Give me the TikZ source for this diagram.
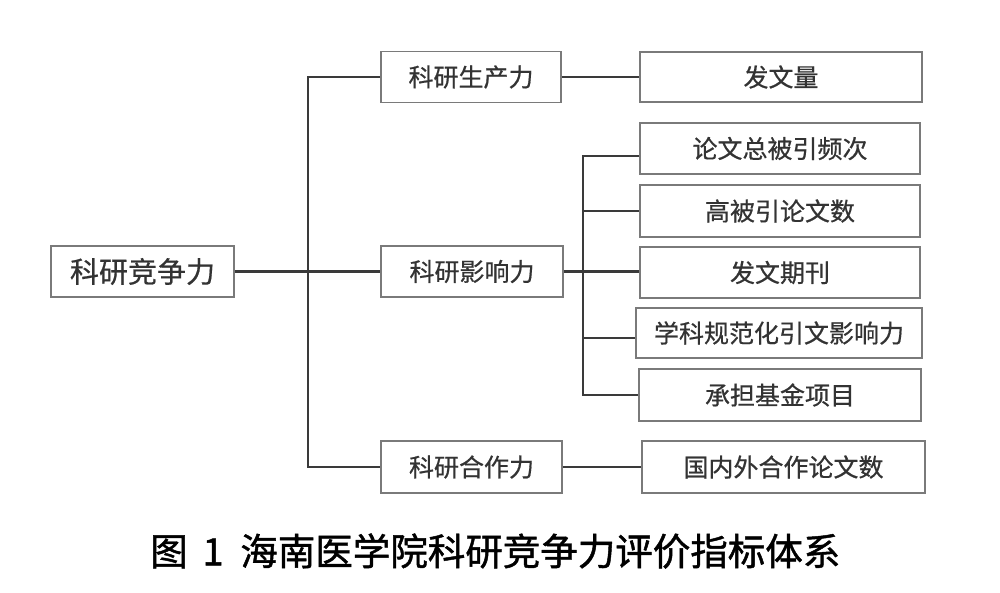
\documentclass[tikz,border=0pt]{standalone}
\usepackage{fontspec}
\newfontfamily\cjk[FakeBold=0.6]{Noto Sans CJK SC}
\newfontfamily\cjkcap[FakeBold=1.2]{Noto Sans CJK SC}
\begin{document}
\begin{tikzpicture}[x=1pt,y=-1pt,
  box/.style={draw=boxgray,line width=1.6pt,fill=white,inner sep=0pt,
    font=\cjk\fontsize{25}{29}\selectfont,text=txtgray,minimum height=51pt},
  link/.style={draw=linegray,line width=2.2pt}]
\definecolor{boxgray}{HTML}{7A7A7A}
\definecolor{txtgray}{HTML}{333333}
\definecolor{linegray}{HTML}{3A3A3A}
\useasboundingbox (0,0) rectangle (1000,592);
\fill[white] (0,0) rectangle (1000,592);
% nodes
\node[box,minimum width=183pt,font=\cjk\fontsize{29}{33}\selectfont] (root) at (142.5,271.5) {科研竞争力};
\node[box,minimum width=180pt] (p1) at (471,77) {科研生产力};
\node[box,minimum width=182pt] (p2) at (472,271.5) {科研影响力};
\node[box,minimum width=181pt,minimum height=52pt] (p3) at (471.5,467) {科研合作力};
\node[box,minimum width=282pt,minimum height=50pt] (l0) at (781,77) {发文量};
\node[box,minimum width=280pt] (l1) at (780,148.5) {论文总被引频次};
\node[box,minimum width=280pt,minimum height=52pt] (l2) at (780,211) {高被引论文数};
\node[box,minimum width=280pt] (l3) at (780,272.5) {发文期刊};
\node[box,minimum width=286pt,minimum height=50pt] (l4) at (779,333) {学科规范化引文影响力};
\node[box,minimum width=282pt,minimum height=52pt] (l5) at (780,395) {承担基金项目};
\node[box,minimum width=283pt,minimum height=52pt] (l6) at (783.5,467) {国内外合作论文数};
% connectors
\coordinate (tr) at (308,271.5);
\coordinate (br) at (583,272);
\draw[link] (root.east) -- (p2.west);
\draw[link] (p1.west) -| (tr) |- (p3.west);
\draw[link] (p1.east) -- (l0.west);
\draw[link] (p3.east) -- (l6.west);
\draw[link] (p2.east) -- (l3.west |- p2.east);
\draw[link] ([yshift=-7.5pt]l1.west) -| (br) |- (l5.west);
\draw[link] (br |- l2.west) -- (l2.west);
\draw[link] (br |- 0,338) -- ([yshift=-5pt]l4.west);
% caption
\node[font=\cjkcap\fontsize{37.5}{42}\selectfont,text=black,anchor=west,inner sep=0pt] (cap) at (150,551) {图\hspace{0.4em}1\hspace{0.45em}海南医学院科研竞争力评价指标体系};
\end{tikzpicture}
\end{document}
